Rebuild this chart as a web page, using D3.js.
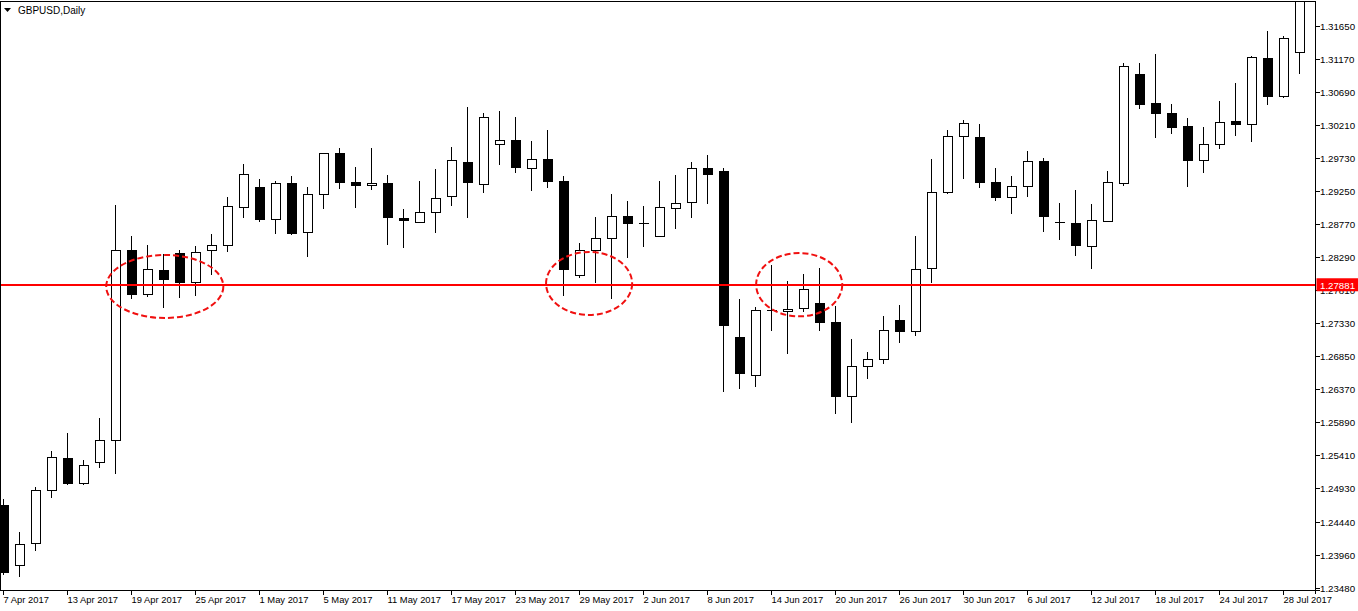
<!DOCTYPE html>
<html><head><meta charset="utf-8">
<script src="https://cdn.jsdelivr.net/npm/d3@7"></script>
<style>html,body{margin:0;padding:0;background:#fff;overflow:hidden}</style>
</head><body>
<svg id="chart" width="1358" height="611"></svg>
<script>
const symbol = "GBPUSD,Daily";
const dates = ["2017-04-07","2017-04-10","2017-04-11","2017-04-12","2017-04-13","2017-04-14","2017-04-17","2017-04-18","2017-04-19","2017-04-20","2017-04-21","2017-04-24","2017-04-25","2017-04-26","2017-04-27","2017-04-28","2017-05-01","2017-05-02","2017-05-03","2017-05-04","2017-05-05","2017-05-08","2017-05-09","2017-05-10","2017-05-11","2017-05-12","2017-05-15","2017-05-16","2017-05-17","2017-05-18","2017-05-19","2017-05-22","2017-05-23","2017-05-24","2017-05-25","2017-05-26","2017-05-29","2017-05-30","2017-05-31","2017-06-01","2017-06-02","2017-06-05","2017-06-06","2017-06-07","2017-06-08","2017-06-09","2017-06-12","2017-06-13","2017-06-14","2017-06-15","2017-06-16","2017-06-19","2017-06-20","2017-06-21","2017-06-22","2017-06-23","2017-06-26","2017-06-27","2017-06-28","2017-06-29","2017-06-30","2017-07-03","2017-07-04","2017-07-05","2017-07-06","2017-07-07","2017-07-10","2017-07-11","2017-07-12","2017-07-13","2017-07-14","2017-07-17","2017-07-18","2017-07-19","2017-07-20","2017-07-21","2017-07-24","2017-07-25","2017-07-26","2017-07-27","2017-07-28","2017-07-31"];
const open  = [1.24687,1.23810,1.24130,1.24900,1.25366,1.25002,1.25307,1.25627,1.28389,1.27744,1.28103,1.28350,1.27924,1.28389,1.28462,1.29014,1.29305,1.28840,1.29363,1.28651,1.29203,1.29799,1.29378,1.29334,1.29363,1.28855,1.28796,1.28942,1.29174,1.29669,1.29349,1.29930,1.29988,1.29581,1.29712,1.29397,1.28026,1.28389,1.28564,1.28884,1.28782,1.28593,1.29000,1.29087,1.29581,1.29542,1.27125,1.26566,1.27517,1.27497,1.27540,1.27619,1.27343,1.26261,1.26703,1.26805,1.27372,1.27206,1.28128,1.29232,1.30047,1.30032,1.29378,1.29160,1.29320,1.29683,1.28805,1.28782,1.28447,1.28811,1.29363,1.30952,1.30526,1.30381,1.30192,1.29692,1.29930,1.30265,1.30221,1.31180,1.30628,1.31268];
const high  = [1.24774,1.24290,1.24944,1.25472,1.25733,1.25341,1.25951,1.29048,1.28597,1.28466,1.28336,1.28394,1.28452,1.28626,1.29164,1.29644,1.29426,1.29397,1.29469,1.29310,1.29799,1.29876,1.29600,1.29876,1.29480,1.28990,1.29397,1.29571,1.29891,1.30473,1.30381,1.30410,1.30327,1.29974,1.30138,1.29469,1.28495,1.28873,1.29208,1.29106,1.29033,1.29397,1.29484,1.29673,1.29775,1.29581,1.27681,1.27565,1.28176,1.27943,1.28045,1.28132,1.27580,1.27100,1.26911,1.27434,1.27594,1.28593,1.29717,1.30138,1.30284,1.30225,1.29581,1.29465,1.29829,1.29727,1.29073,1.29262,1.29058,1.29538,1.31112,1.31112,1.31243,1.30512,1.30308,1.30177,1.30560,1.30821,1.31210,1.31577,1.31500,1.32150];
const low   = [1.23669,1.23644,1.24022,1.24793,1.24982,1.24982,1.25229,1.25142,1.27686,1.27715,1.27555,1.27700,1.27729,1.28035,1.28369,1.28863,1.28805,1.28631,1.28612,1.28296,1.28985,1.29285,1.29009,1.29262,1.28471,1.28427,1.28796,1.28645,1.29038,1.28863,1.29227,1.29634,1.29517,1.29256,1.29299,1.27729,1.27991,1.27918,1.27686,1.28282,1.28442,1.28578,1.28703,1.28863,1.29067,1.26334,1.26377,1.26406,1.27216,1.26886,1.27492,1.27216,1.26014,1.25874,1.26523,1.26741,1.27046,1.27148,1.27918,1.29212,1.29430,1.29299,1.29110,1.28921,1.29169,1.28660,1.28535,1.28302,1.28113,1.28796,1.29328,1.30448,1.30026,1.30084,1.29314,1.29517,1.29866,1.30055,1.29968,1.30506,1.30608,1.30957];
const close = [1.23703,1.24115,1.24900,1.25380,1.24996,1.25264,1.25627,1.28389,1.27744,1.28113,1.27962,1.27918,1.28360,1.28462,1.29029,1.29494,1.28834,1.29363,1.28631,1.29203,1.29799,1.29372,1.29320,1.29363,1.28855,1.28811,1.28942,1.29145,1.29698,1.29363,1.30323,1.29988,1.29590,1.29712,1.29387,1.28107,1.28389,1.28564,1.28884,1.28776,1.28782,1.29014,1.29073,1.29581,1.29488,1.27293,1.26595,1.27517,1.27517,1.27532,1.27822,1.27337,1.26261,1.26703,1.26805,1.27226,1.27206,1.28113,1.29232,1.30047,1.30236,1.29372,1.29154,1.29320,1.29683,1.28869,1.28786,1.28447,1.28825,1.29378,1.31064,1.30506,1.30375,1.30172,1.29692,1.29930,1.30250,1.30215,1.31195,1.30622,1.31471,1.32101];
const priceTicks = ["1.31650","1.31170","1.30690","1.30210","1.29730","1.29250","1.28770","1.28290","1.27810","1.27330","1.26850","1.26370","1.25890","1.25410","1.24930","1.24440","1.23960","1.23480"];
const dateTicks = ["2017-04-07","2017-04-13","2017-04-19","2017-04-25","2017-05-01","2017-05-05","2017-05-11","2017-05-17","2017-05-23","2017-05-29","2017-06-02","2017-06-08","2017-06-14","2017-06-20","2017-06-26","2017-06-30","2017-07-06","2017-07-12","2017-07-18","2017-07-24","2017-07-28"];
const levelPrice = 1.27881;
const zoneCenterBar = [10.08, 36.6, 49.73];
const zoneCenterPrice = [1.27863, 1.27907, 1.27889];
const zoneHalfBars = [3.66, 2.69, 2.69];
const zoneHalfPrice = [0.00458, 0.00458, 0.00460];

const svg = d3.select("#chart");
const FONT = "'Liberation Sans', Arial, sans-serif";
const axisX = 1315.5, plotTop = 1.5, plotBottom = 590.5;

const x = d3.scaleLinear().domain([0, dates.length - 1]).range([3.5, 3.5 + 16 * (dates.length - 1)]);
const y = d3.scaleLinear().domain([1.23480, 1.31650]).range([588, 26]);

svg.append("rect").attr("width", 1358).attr("height", 611).attr("fill", "#fff");

svg.append("defs").append("clipPath").attr("id", "plot")
  .append("rect").attr("x", 1).attr("y", 2).attr("width", axisX - 1.5).attr("height", plotBottom - 2);

const plot = svg.append("g").attr("clip-path", "url(#plot)").attr("shape-rendering", "crispEdges");

const data = dates.map((d, i) => ({i, o: open[i], h: high[i], l: low[i], c: close[i]}));

const g = plot.selectAll("g.candle").data(data).join("g").attr("class", "candle");
g.append("line")
  .attr("x1", d => x(d.i)).attr("x2", d => x(d.i))
  .attr("y1", d => y(d.h)).attr("y2", d => y(d.l))
  .attr("stroke", "#000").attr("stroke-width", 1);
g.each(function(d) {
  const sel = d3.select(this);
  const cx = x(d.i);
  if (d.o === d.c) {
    sel.append("line").attr("x1", cx - 4.5).attr("x2", cx + 5.5)
      .attr("y1", Math.round(y(d.o)) + 0.5).attr("y2", Math.round(y(d.o)) + 0.5)
      .attr("stroke", "#000").attr("stroke-width", 1);
  } else if (d.c < d.o) {
    const t = y(d.o), b = y(d.c);
    sel.append("rect").attr("x", cx - 4.5).attr("width", 10)
      .attr("y", t).attr("height", Math.max(1, b - t)).attr("fill", "#000");
  } else {
    const t = y(d.c), b = y(d.o);
    sel.append("rect").attr("x", cx - 4).attr("width", 9)
      .attr("y", t).attr("height", Math.max(1, b - t))
      .attr("fill", "#fff").attr("stroke", "#000").attr("stroke-width", 1);
  }
});

// horizontal level
plot.append("line").attr("x1", 0).attr("x2", axisX)
  .attr("y1", y(levelPrice)).attr("y2", y(levelPrice))
  .attr("stroke", "#ff0000").attr("stroke-width", 2);

// annotation ellipses
const ann = svg.append("g").attr("clip-path", "url(#plot)");
zoneCenterBar.forEach((cb, k) => {
  ann.append("ellipse")
    .attr("cx", x(cb)).attr("cy", y(zoneCenterPrice[k]))
    .attr("rx", x(cb + zoneHalfBars[k]) - x(cb))
    .attr("ry", y(zoneCenterPrice[k] - zoneHalfPrice[k]) - y(zoneCenterPrice[k]))
    .attr("fill", "none").attr("stroke", "#f01010").attr("stroke-width", 2)
    .attr("stroke-dasharray", "6,3");
});

// frame and axes
const frame = svg.append("g").attr("shape-rendering", "crispEdges");
frame.append("line").attr("x1", 0.5).attr("x2", 0.5).attr("y1", plotTop).attr("y2", plotBottom).attr("stroke", "#000");
frame.append("line").attr("x1", 0).attr("x2", axisX).attr("y1", plotTop).attr("y2", plotTop).attr("stroke", "#000");
frame.append("line").attr("x1", axisX).attr("x2", axisX).attr("y1", plotTop).attr("y2", plotBottom + 3).attr("stroke", "#000");
frame.append("line").attr("x1", 0).attr("x2", axisX + 4).attr("y1", plotBottom).attr("y2", plotBottom).attr("stroke", "#000");

priceTicks.forEach(t => {
  const yy = Math.round(y(+t)) + 0.5;
  frame.append("line").attr("x1", axisX).attr("x2", axisX + 4).attr("y1", yy).attr("y2", yy).attr("stroke", "#000");
  svg.append("text").attr("x", 1320).attr("y", yy).attr("dy", "0.35em")
    .attr("font-family", FONT).attr("font-size", 9.7).attr("fill", "#000").text(t);
});

const fmt = d3.timeFormat("%-d %b %Y");
const parse = d3.timeParse("%Y-%m-%d");
dateTicks.forEach(dt => {
  const idx = dates.indexOf(dt);
  const xx = x(idx);
  frame.append("line").attr("x1", xx).attr("x2", xx).attr("y1", plotBottom).attr("y2", plotBottom + 4).attr("stroke", "#000");
  svg.append("text").attr("x", xx).attr("y", 603)
    .attr("font-family", FONT).attr("font-size", 9.4).attr("fill", "#000").text(fmt(parse(dt)));
});

// level price label on axis
const ly = y(levelPrice);
svg.append("rect").attr("x", axisX + 1).attr("y", ly - 7).attr("width", 1358 - axisX).attr("height", 13).attr("fill", "#ff0000");
svg.append("text").attr("x", 1320).attr("y", ly).attr("dy", "0.35em")
  .attr("font-family", FONT).attr("font-size", 9.7).attr("fill", "#fff").text(levelPrice.toFixed(5));

// title
svg.append("path").attr("d", "M4,8 L11,8 L7.5,12 Z").attr("fill", "#000");
svg.append("text").attr("x", 18).attr("y", 14).attr("font-family", FONT).attr("font-size", 10).attr("fill", "#000").text(symbol);
</script>
</body></html>
